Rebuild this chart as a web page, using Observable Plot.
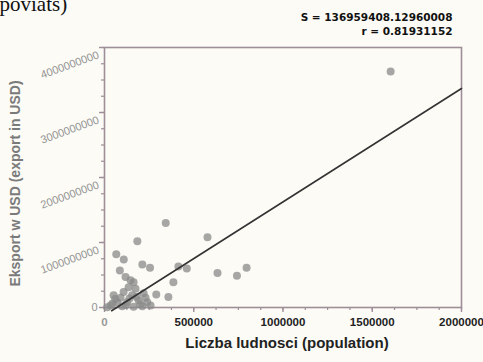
<!DOCTYPE html>
<html>
<head>
<meta charset="utf-8">
<script src="https://cdn.jsdelivr.net/npm/d3@7"></script>
<script src="https://cdn.jsdelivr.net/npm/@observablehq/plot@0.6"></script>
<style>
  html, body { margin: 0; padding: 0; background: #fcfbf6; }
  #chart { width: 483px; height: 362px; overflow: hidden; }
</style>
</head>
<body>
<div id="chart"></div>
<script>
// population (x) and export in USD (y)
const population = [
  1603000, 343000, 184000, 577000, 66000, 108000, 212000, 255000, 414000, 461000,
  633000, 742000, 796000, 386000, 86000, 358000, 290000, 118000, 146000, 163000,
  135000, 174000, 107000, 51000, 155000, 219000, 71000, 127000, 191000, 240000,
  34000, 99000, 163000, 212000, 258000, 15000, 60000, 90000, 140000, 200000,
  45000, 120000, 180000, 230000
];
const exportUSD = [
  3630000000, 1300000000, 1020000000, 1080000000, 820000000, 740000000, 660000000, 610000000, 630000000, 600000000,
  530000000, 490000000, 610000000, 390000000, 570000000, 160000000, 200000000, 470000000, 420000000, 390000000,
  310000000, 290000000, 240000000, 190000000, 190000000, 220000000, 80000000, 80000000, 110000000, 80000000,
  30000000, 20000000, 10000000, 20000000, 30000000, 5000000, 130000000, 150000000, 140000000, 50000000,
  60000000, 40000000, 160000000, 150000000
];

// regression line
const regIntercept = -120000000;
const regSlope = 1745;
const regXRange = [40000, 2000000];

const xTicks = [0, 500000, 1000000, 1500000, 2000000];
const xTickLabels = ["0", "500000", "1000000", "1500000", "2000000"];
const xMinorTicks = [0, 125000, 250000, 375000, 500000, 625000, 750000, 875000, 1000000, 1125000, 1250000, 1375000, 1500000, 1625000, 1750000, 1875000, 2000000];
const yTicks = [0, 1000000000, 2000000000, 3000000000, 4000000000];
const yTickLabels = ["0", "1000000000", "2000000000", "3000000000", "4000000000"];
const yMinorTicks = [0, 250000000, 500000000, 750000000, 1000000000, 1250000000, 1500000000, 1750000000, 2000000000, 2250000000, 2500000000, 2750000000, 3000000000, 3250000000, 3500000000, 3750000000, 4000000000];

const statS = "S = 136959408.12960008";
const statR = "r = 0.81931152";
const xTitle = "Liczba ludnosci (population)";
const yTitle = "Eksport w USD (export in USD)";
const topFragment = "poviats)";

const points = population.map((p, i) => ({pop: p, exp: exportUSD[i]}));
const regLine = regXRange.map(x => ({pop: x, exp: regIntercept + regSlope * x}));

const frameColor = "#9e8e97";
const sans = "'Liberation Sans', Arial, sans-serif";

const chart = Plot.plot({
  width: 483,
  height: 362,
  marginLeft: 104,
  marginRight: 22,
  marginTop: 47,
  marginBottom: 55,
  x: {domain: [0, 2000000]},
  y: {domain: [0, 4000000000]},
  style: {background: "#fcfbf6", fontFamily: sans, overflow: "visible"},
  marks: [
    Plot.axisX(xMinorTicks, {tickSize: 3, tickFormat: () => "", stroke: frameColor, strokeWidth: 1.2, label: null}),
    Plot.axisX(xTicks, {tickSize: 5, tickFormat: () => "", stroke: frameColor, strokeWidth: 1.4, label: null}),
    Plot.axisY(yMinorTicks, {tickSize: 3, tickFormat: () => "", stroke: frameColor, strokeWidth: 1.2, label: null}),
    Plot.axisY(yTicks, {tickSize: 5, tickFormat: () => "", stroke: frameColor, strokeWidth: 1.4, label: null}),
    Plot.frame({stroke: frameColor, strokeWidth: 1.6}),
    Plot.dot(points, {x: "pop", y: "exp", r: 4, fill: "#8a8a8a", fillOpacity: 0.75, stroke: "none"}),
    Plot.line(regLine, {x: "pop", y: "exp", stroke: "#333", strokeWidth: 1.6}),
    // x tick labels
    Plot.text(xTicks.slice(1), {x: d => d, text: (d, i) => xTickLabels[i + 1], frameAnchor: "bottom", dy: 18, fontWeight: "bold", fontSize: 11.5, fill: "#222"}),
    Plot.text(xTicks.slice(0, 1), {x: d => d, text: () => xTickLabels[0], frameAnchor: "bottom", dy: 18, fontWeight: "bold", fontSize: 11.5, fill: "#9a9a9a"}),
    // y tick labels
    Plot.text(yTicks.slice(1), {y: d => d, text: (d, i) => yTickLabels[i + 1], frameAnchor: "left", textAnchor: "end", rotate: -20, dx: -6, dy: 7, fontSize: 11, fill: "#939393"}),
    Plot.text(yTicks.slice(0, 1), {y: d => d, text: () => yTickLabels[0], frameAnchor: "left", textAnchor: "end", dx: -7, dy: 0, fontSize: 11, fill: "#939393"}),
    // titles
    Plot.text([xTitle], {frameAnchor: "bottom", textAnchor: "middle", dx: 4, dy: 40, fontWeight: "bold", fontSize: 15, fill: "#222"}),
    Plot.text([yTitle], {frameAnchor: "left", textAnchor: "middle", rotate: -90, dx: -89, dy: 6, fontWeight: "bold", fontSize: 14, fill: "#7a7a7a"}),
    Plot.text([statS], {frameAnchor: "top-right", textAnchor: "end", dx: -9, dy: -34, fontWeight: "bold", fontSize: 10.5, fontFamily: "'DejaVu Sans', sans-serif", fill: "#111"}),
    Plot.text([statR], {frameAnchor: "top-right", textAnchor: "end", dx: -9, dy: -20, fontWeight: "bold", fontSize: 10.5, fontFamily: "'DejaVu Sans', sans-serif", fill: "#111"}),
    Plot.text([topFragment], {frameAnchor: "top-left", textAnchor: "start", lineAnchor: "bottom", dx: -105, dy: -37, fontSize: 21, fontFamily: "'Liberation Serif', 'Times New Roman', serif", fill: "#111"})
  ]
});
document.getElementById("chart").appendChild(chart);
</script>
</body>
</html>
